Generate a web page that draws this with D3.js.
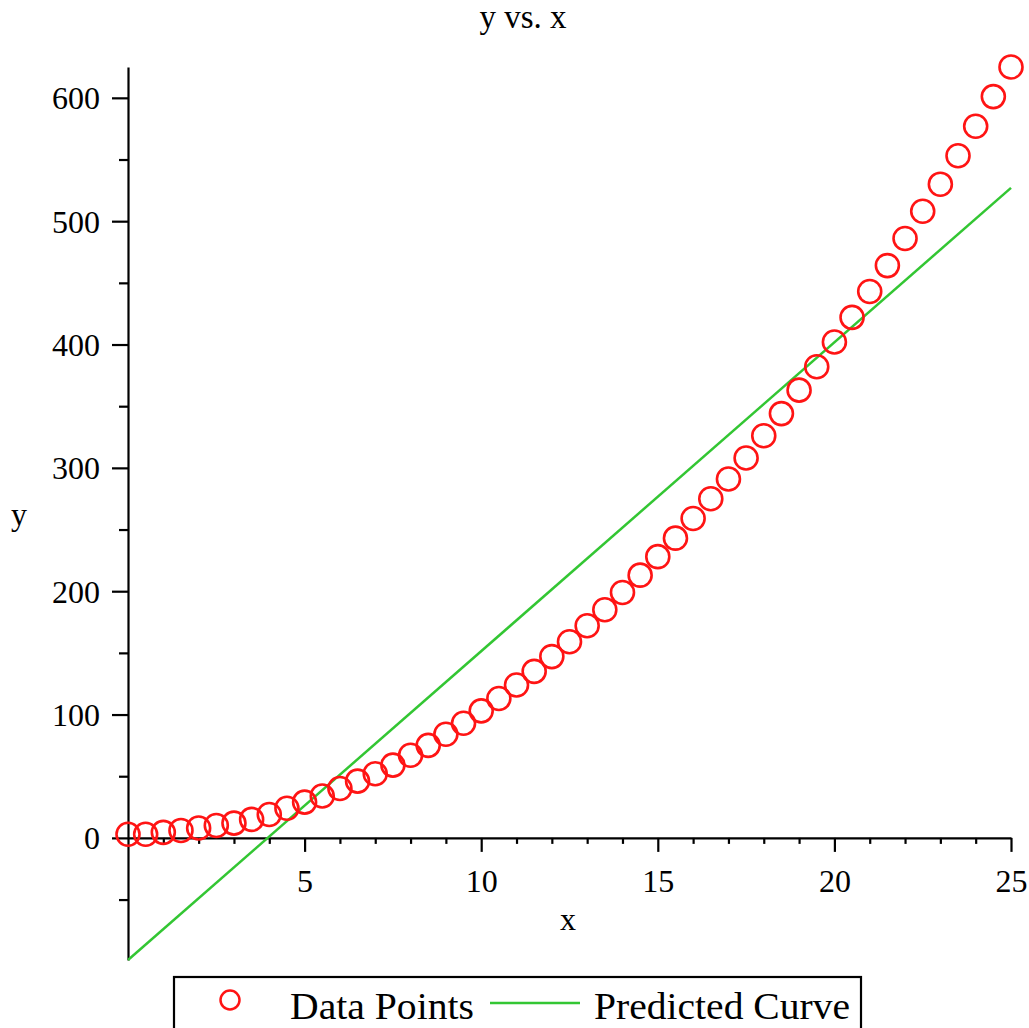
<!DOCTYPE html>
<html>
<head>
<meta charset="utf-8">
<script src="https://cdn.jsdelivr.net/npm/d3@7"></script>
<style>
  html, body { margin: 0; padding: 0; background: #fff; }
  svg { display: block; }
  text { font-family: "Liberation Serif", "Times New Roman", serif; fill: #000; }
</style>
</head>
<body>
<svg id="chart" width="1029" height="1028"></svg>
<script>
// ---- data ----
const xValues = [0, 0.5, 1, 1.5, 2, 2.5, 3, 3.5, 4, 4.5, 5, 5.5, 6, 6.5, 7, 7.5, 8, 8.5, 9, 9.5,
  10, 10.5, 11, 11.5, 12, 12.5, 13, 13.5, 14, 14.5, 15, 15.5, 16, 16.5, 17, 17.5, 18, 18.5, 19, 19.5,
  20, 20.5, 21, 21.5, 22, 22.5, 23, 23.5, 24, 24.5, 25];
const yValues = [3, 3, 4.5, 6, 8, 10, 12, 15, 19, 24, 29, 34, 40, 46, 52, 59, 67, 75, 84, 93,
  103, 113, 124, 135, 147, 159, 172, 185, 199, 213, 228, 243, 259, 275, 291, 308, 326, 344, 363, 382,
  402, 422, 443, 464, 486, 508, 530, 553, 577, 601, 625];
const predX = [0, 25];
const predY = [-99, 527];
const xMajorTicks = [5, 10, 15, 20, 25];
const xMinorTicks = [1, 2, 3, 4, 6, 7, 8, 9, 11, 12, 13, 14, 16, 17, 18, 19, 21, 22, 23, 24];
const yMajorTicks = [0, 100, 200, 300, 400, 500, 600];
const yMinorTicks = [-50, 50, 150, 250, 350, 450, 550];
const titleText = "y vs. x";
const xLabel = "x";
const yLabel = "y";
const legendLabels = ["Data Points", "Predicted Curve"];

// ---- layout ----
const svg = d3.select("#chart");
const x = d3.scaleLinear().domain([0, 25]).range([128, 1011]);
const y = d3.scaleLinear().domain([-99, 625]).range([960, 67]);
const red = "#ff1414";
const green = "#33c633";

// title
svg.append("text").attr("x", 523).attr("y", 28).attr("text-anchor", "middle")
  .attr("font-size", 33).text(titleText);

// y axis
const yAxisG = svg.append("g").attr("transform", `translate(${x(0)},0)`);
yAxisG.call(d3.axisLeft(y).tickValues(yMajorTicks).tickSize(16).tickPadding(12).tickSizeOuter(0).tickFormat(d3.format("d")));
yAxisG.call(g => g.selectAll(".tick text").attr("font-size", 32).attr("font-family", "Liberation Serif").attr("dy", "0.34em"));
const yMinorG = svg.append("g").attr("transform", `translate(${x(0)},0)`);
yMinorG.call(d3.axisLeft(y).tickValues(yMinorTicks).tickSize(9).tickFormat(""));
yMinorG.select(".domain").remove();

// x axis
const xAxisG = svg.append("g").attr("transform", `translate(0,${y(0)})`);
xAxisG.call(d3.axisBottom(x).tickValues(xMajorTicks).tickSize(14).tickPadding(17).tickSizeOuter(0).tickFormat(d3.format("d")));
xAxisG.call(g => g.selectAll(".tick text").attr("font-size", 32).attr("font-family", "Liberation Serif"));
const xMinorG = svg.append("g").attr("transform", `translate(0,${y(0)})`);
xMinorG.call(d3.axisBottom(x).tickValues(xMinorTicks).tickSize(6).tickFormat(""));
xMinorG.select(".domain").remove();

svg.selectAll(".domain, .tick line").attr("stroke", "#000").attr("stroke-width", 2.2);

// axis labels
svg.append("text").attr("x", 568).attr("y", 930).attr("text-anchor", "middle").attr("font-size", 32).text(xLabel);
svg.append("text").attr("x", 19).attr("y", 525).attr("text-anchor", "middle").attr("font-size", 32).text(yLabel);

// predicted line
const line = d3.line().x(d => x(d[0])).y(d => y(d[1]));
svg.append("path").datum(d3.zip(predX, predY)).attr("d", line)
  .attr("fill", "none").attr("stroke", green).attr("stroke-width", 2.5);

// data points
svg.append("g").selectAll("circle").data(d3.zip(xValues, yValues)).join("circle")
  .attr("cx", d => x(d[0])).attr("cy", d => y(d[1])).attr("r", 11.5)
  .attr("fill", "none").attr("stroke", red).attr("stroke-width", 2.6);

// legend
const lg = svg.append("g");
lg.append("rect").attr("x", 174).attr("y", 977).attr("width", 687).attr("height", 70)
  .attr("fill", "#fff").attr("stroke", "#000").attr("stroke-width", 2.2);
lg.append("circle").attr("cx", 230).attr("cy", 1000).attr("r", 9.5)
  .attr("fill", "none").attr("stroke", red).attr("stroke-width", 2.5);
lg.append("text").attr("x", 290).attr("y", 1019).attr("font-size", 38)
  .attr("textLength", 184).attr("lengthAdjust", "spacingAndGlyphs").text(legendLabels[0]);
lg.append("line").attr("x1", 490).attr("x2", 580).attr("y1", 1003).attr("y2", 1003)
  .attr("stroke", green).attr("stroke-width", 2.5);
lg.append("text").attr("x", 594).attr("y", 1019).attr("font-size", 38)
  .attr("textLength", 256).attr("lengthAdjust", "spacingAndGlyphs").text(legendLabels[1]);
</script>
</body>
</html>
